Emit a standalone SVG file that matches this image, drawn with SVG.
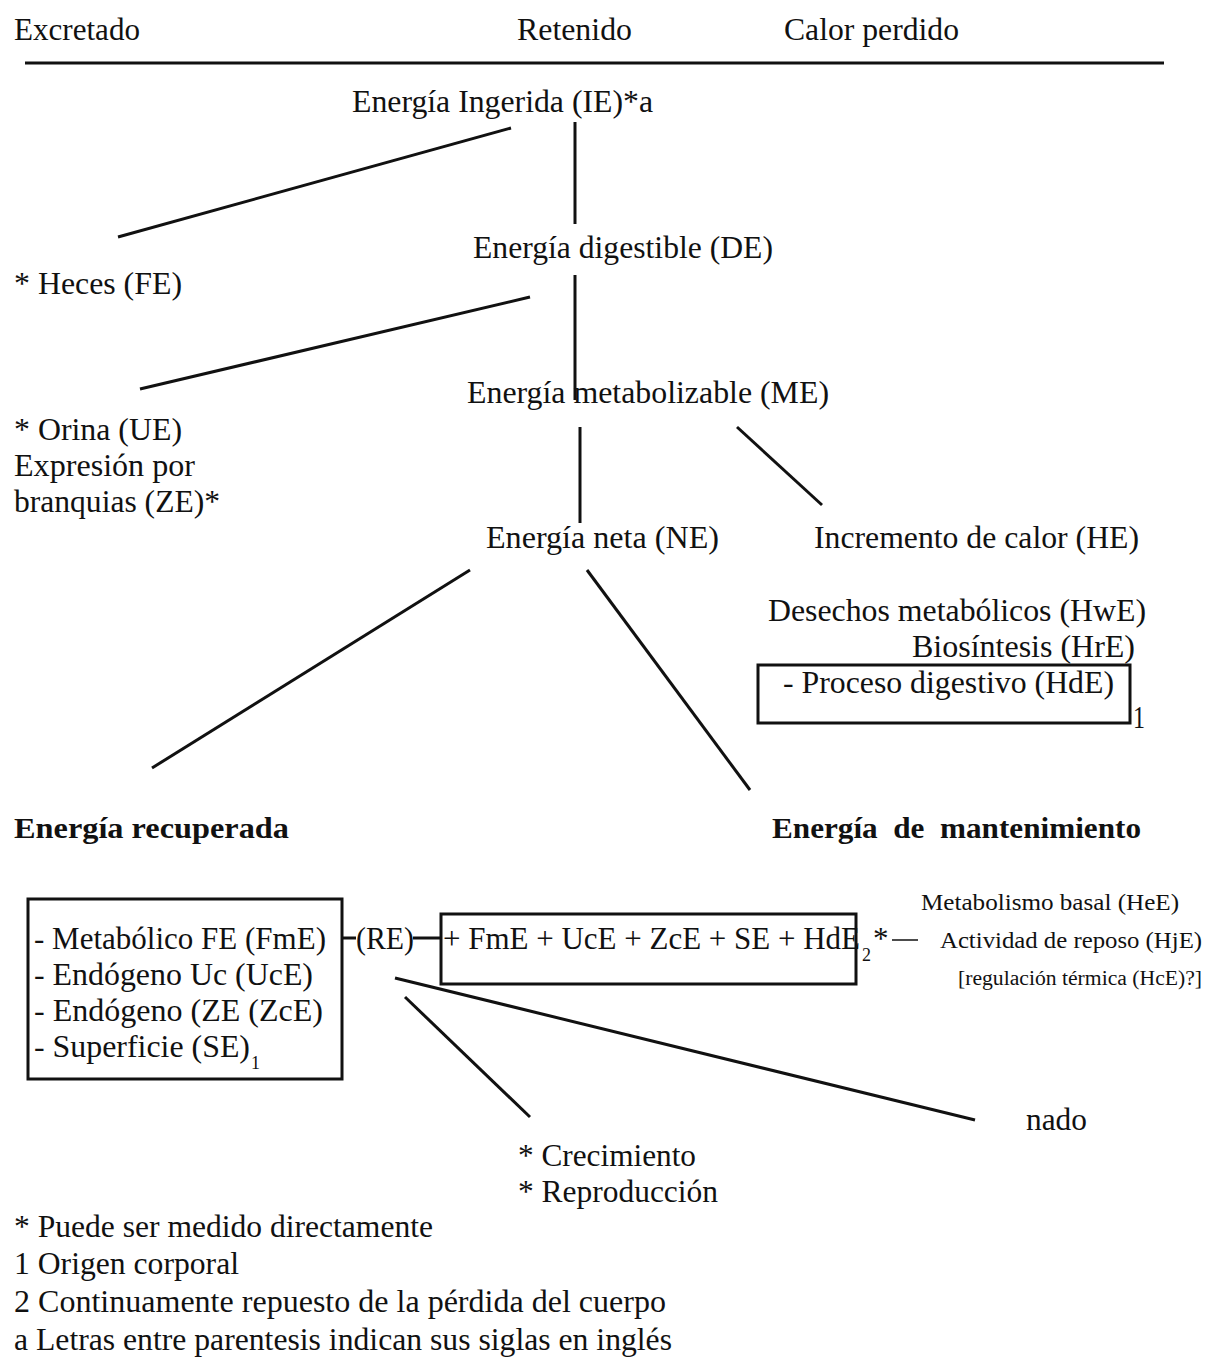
<svg xmlns="http://www.w3.org/2000/svg" width="1214" height="1358" viewBox="0 0 1214 1358">
<style>
text{font-family:"Liberation Serif","Times New Roman",serif;fill:#111;font-size:31px}
.b{font-weight:bold;font-size:29px}
.s{font-size:23px}
.xs{font-size:20px}
.sub{font-size:18px}
.ln{stroke:#111;stroke-width:3;fill:none}
.box{stroke:#111;stroke-width:3;fill:none}
</style>
<rect width="1214" height="1358" fill="#fff"/>
<g id="header">
<text x="14" y="40" textLength="126" lengthAdjust="spacingAndGlyphs">Excretado</text>
<text x="517" y="40" textLength="115" lengthAdjust="spacingAndGlyphs">Retenido</text>
<text x="784" y="40" textLength="175" lengthAdjust="spacingAndGlyphs">Calor perdido</text>
<line class="ln" x1="25" y1="63" x2="1164" y2="63"/>
</g>
<g id="connectors">
<line class="ln" x1="511" y1="128" x2="118" y2="237"/>
<line class="ln" x1="575" y1="122" x2="575" y2="224"/>
<line class="ln" x1="530" y1="297" x2="140" y2="389"/>
<line class="ln" x1="575" y1="275" x2="575" y2="400"/>
<line class="ln" x1="580" y1="427" x2="580" y2="523"/>
<line class="ln" x1="737" y1="427" x2="822" y2="505"/>
<line class="ln" x1="470" y1="570" x2="152" y2="768"/>
<line class="ln" x1="587" y1="570" x2="750" y2="790"/>
<line class="ln" x1="342" y1="938" x2="356" y2="938"/>
<line class="ln" x1="413" y1="938" x2="440" y2="938"/>
<line class="ln" x1="395" y1="978" x2="975" y2="1120"/>
<line class="ln" x1="405" y1="997" x2="530" y2="1117"/>
<line class="ln" x1="892" y1="940" x2="918" y2="940" style="stroke-width:1.5"/>
</g>
<g id="IE"><text x="352" y="112" textLength="301" lengthAdjust="spacingAndGlyphs">Energía Ingerida (IE)*a</text></g>
<g id="DE"><text x="473" y="258" textLength="300" lengthAdjust="spacingAndGlyphs">Energía digestible (DE)</text></g>
<g id="FE"><text x="14" y="294" textLength="168" lengthAdjust="spacingAndGlyphs">* Heces (FE)</text></g>
<g id="ME"><text x="467" y="403" textLength="362" lengthAdjust="spacingAndGlyphs">Energía metabolizable (ME)</text></g>
<g id="UE">
<text x="14" y="440" textLength="168" lengthAdjust="spacingAndGlyphs">* Orina (UE)</text>
<text x="14" y="476" textLength="181" lengthAdjust="spacingAndGlyphs">Expresión por</text>
<text x="14" y="512" textLength="206" lengthAdjust="spacingAndGlyphs">branquias (ZE)*</text>
</g>
<g id="NE"><text x="486" y="548" textLength="233" lengthAdjust="spacingAndGlyphs">Energía neta (NE)</text></g>
<g id="HE"><text x="814" y="548" textLength="325" lengthAdjust="spacingAndGlyphs">Incremento de calor (HE)</text></g>
<g id="HE-detail">
<text x="768" y="621" textLength="378" lengthAdjust="spacingAndGlyphs">Desechos metabólicos (HwE)</text>
<text x="912" y="657" textLength="223" lengthAdjust="spacingAndGlyphs">Biosíntesis (HrE)</text>
<rect class="box" x="758" y="665" width="372" height="58"/>
<text x="783" y="693" textLength="331" lengthAdjust="spacingAndGlyphs">- Proceso digestivo (HdE)</text>
<text x="1133" y="728" textLength="12" lengthAdjust="spacingAndGlyphs">1</text>
</g>
<g id="recuperada"><text class="b" x="14" y="838" textLength="275" lengthAdjust="spacingAndGlyphs">Energía recuperada</text></g>
<g id="mantenimiento"><text class="b" x="772" y="838" textLength="369" lengthAdjust="spacingAndGlyphs" xml:space="preserve">Energía  de  mantenimiento</text></g>
<g id="recuperada-box">
<rect class="box" x="28" y="899" width="314" height="180"/>
<text x="34" y="949" textLength="292" lengthAdjust="spacingAndGlyphs">- Metabólico FE (FmE)</text>
<text x="34" y="985" textLength="279" lengthAdjust="spacingAndGlyphs">- Endógeno Uc (UcE)</text>
<text x="34" y="1021" textLength="289" lengthAdjust="spacingAndGlyphs">- Endógeno (ZE (ZcE)</text>
<text x="34" y="1057" textLength="216" lengthAdjust="spacingAndGlyphs">- Superficie (SE)</text>
<text class="sub" x="251" y="1069">1</text>
</g>
<g id="RE"><text x="356" y="949" textLength="58" lengthAdjust="spacingAndGlyphs">(RE)</text></g>
<g id="mantenimiento-box">
<rect class="box" x="441" y="914" width="415" height="70"/>
<text x="443" y="949" textLength="417" lengthAdjust="spacingAndGlyphs">+ FmE + UcE + ZcE + SE + HdE</text>
<text class="sub" x="862" y="961">2</text>
<text x="873" y="949">*</text>
</g>
<g id="mantenimiento-detail">
<text class="s" x="921" y="910" textLength="258" lengthAdjust="spacingAndGlyphs">Metabolismo basal (HeE)</text>
<text class="s" x="940" y="948" textLength="262" lengthAdjust="spacingAndGlyphs">Actividad de reposo (HjE)</text>
<text class="xs" x="958" y="985" textLength="244" lengthAdjust="spacingAndGlyphs">[regulación térmica (HcE)?]</text>
</g>
<g id="nado"><text x="1026" y="1130" textLength="61" lengthAdjust="spacingAndGlyphs">nado</text></g>
<g id="crecimiento">
<text x="518" y="1166" textLength="178" lengthAdjust="spacingAndGlyphs">* Crecimiento</text>
<text x="518" y="1202" textLength="200" lengthAdjust="spacingAndGlyphs">* Reproducción</text>
</g>
<g id="notes">
<text x="14" y="1237" textLength="419" lengthAdjust="spacingAndGlyphs">* Puede ser medido directamente</text>
<text x="14" y="1274" textLength="225" lengthAdjust="spacingAndGlyphs">1 Origen corporal</text>
<text x="14" y="1312" textLength="652" lengthAdjust="spacingAndGlyphs">2 Continuamente repuesto de la pérdida del cuerpo</text>
<text x="14" y="1350" textLength="658" lengthAdjust="spacingAndGlyphs">a Letras entre parentesis indican sus siglas en inglés</text>
</g>
</svg>
